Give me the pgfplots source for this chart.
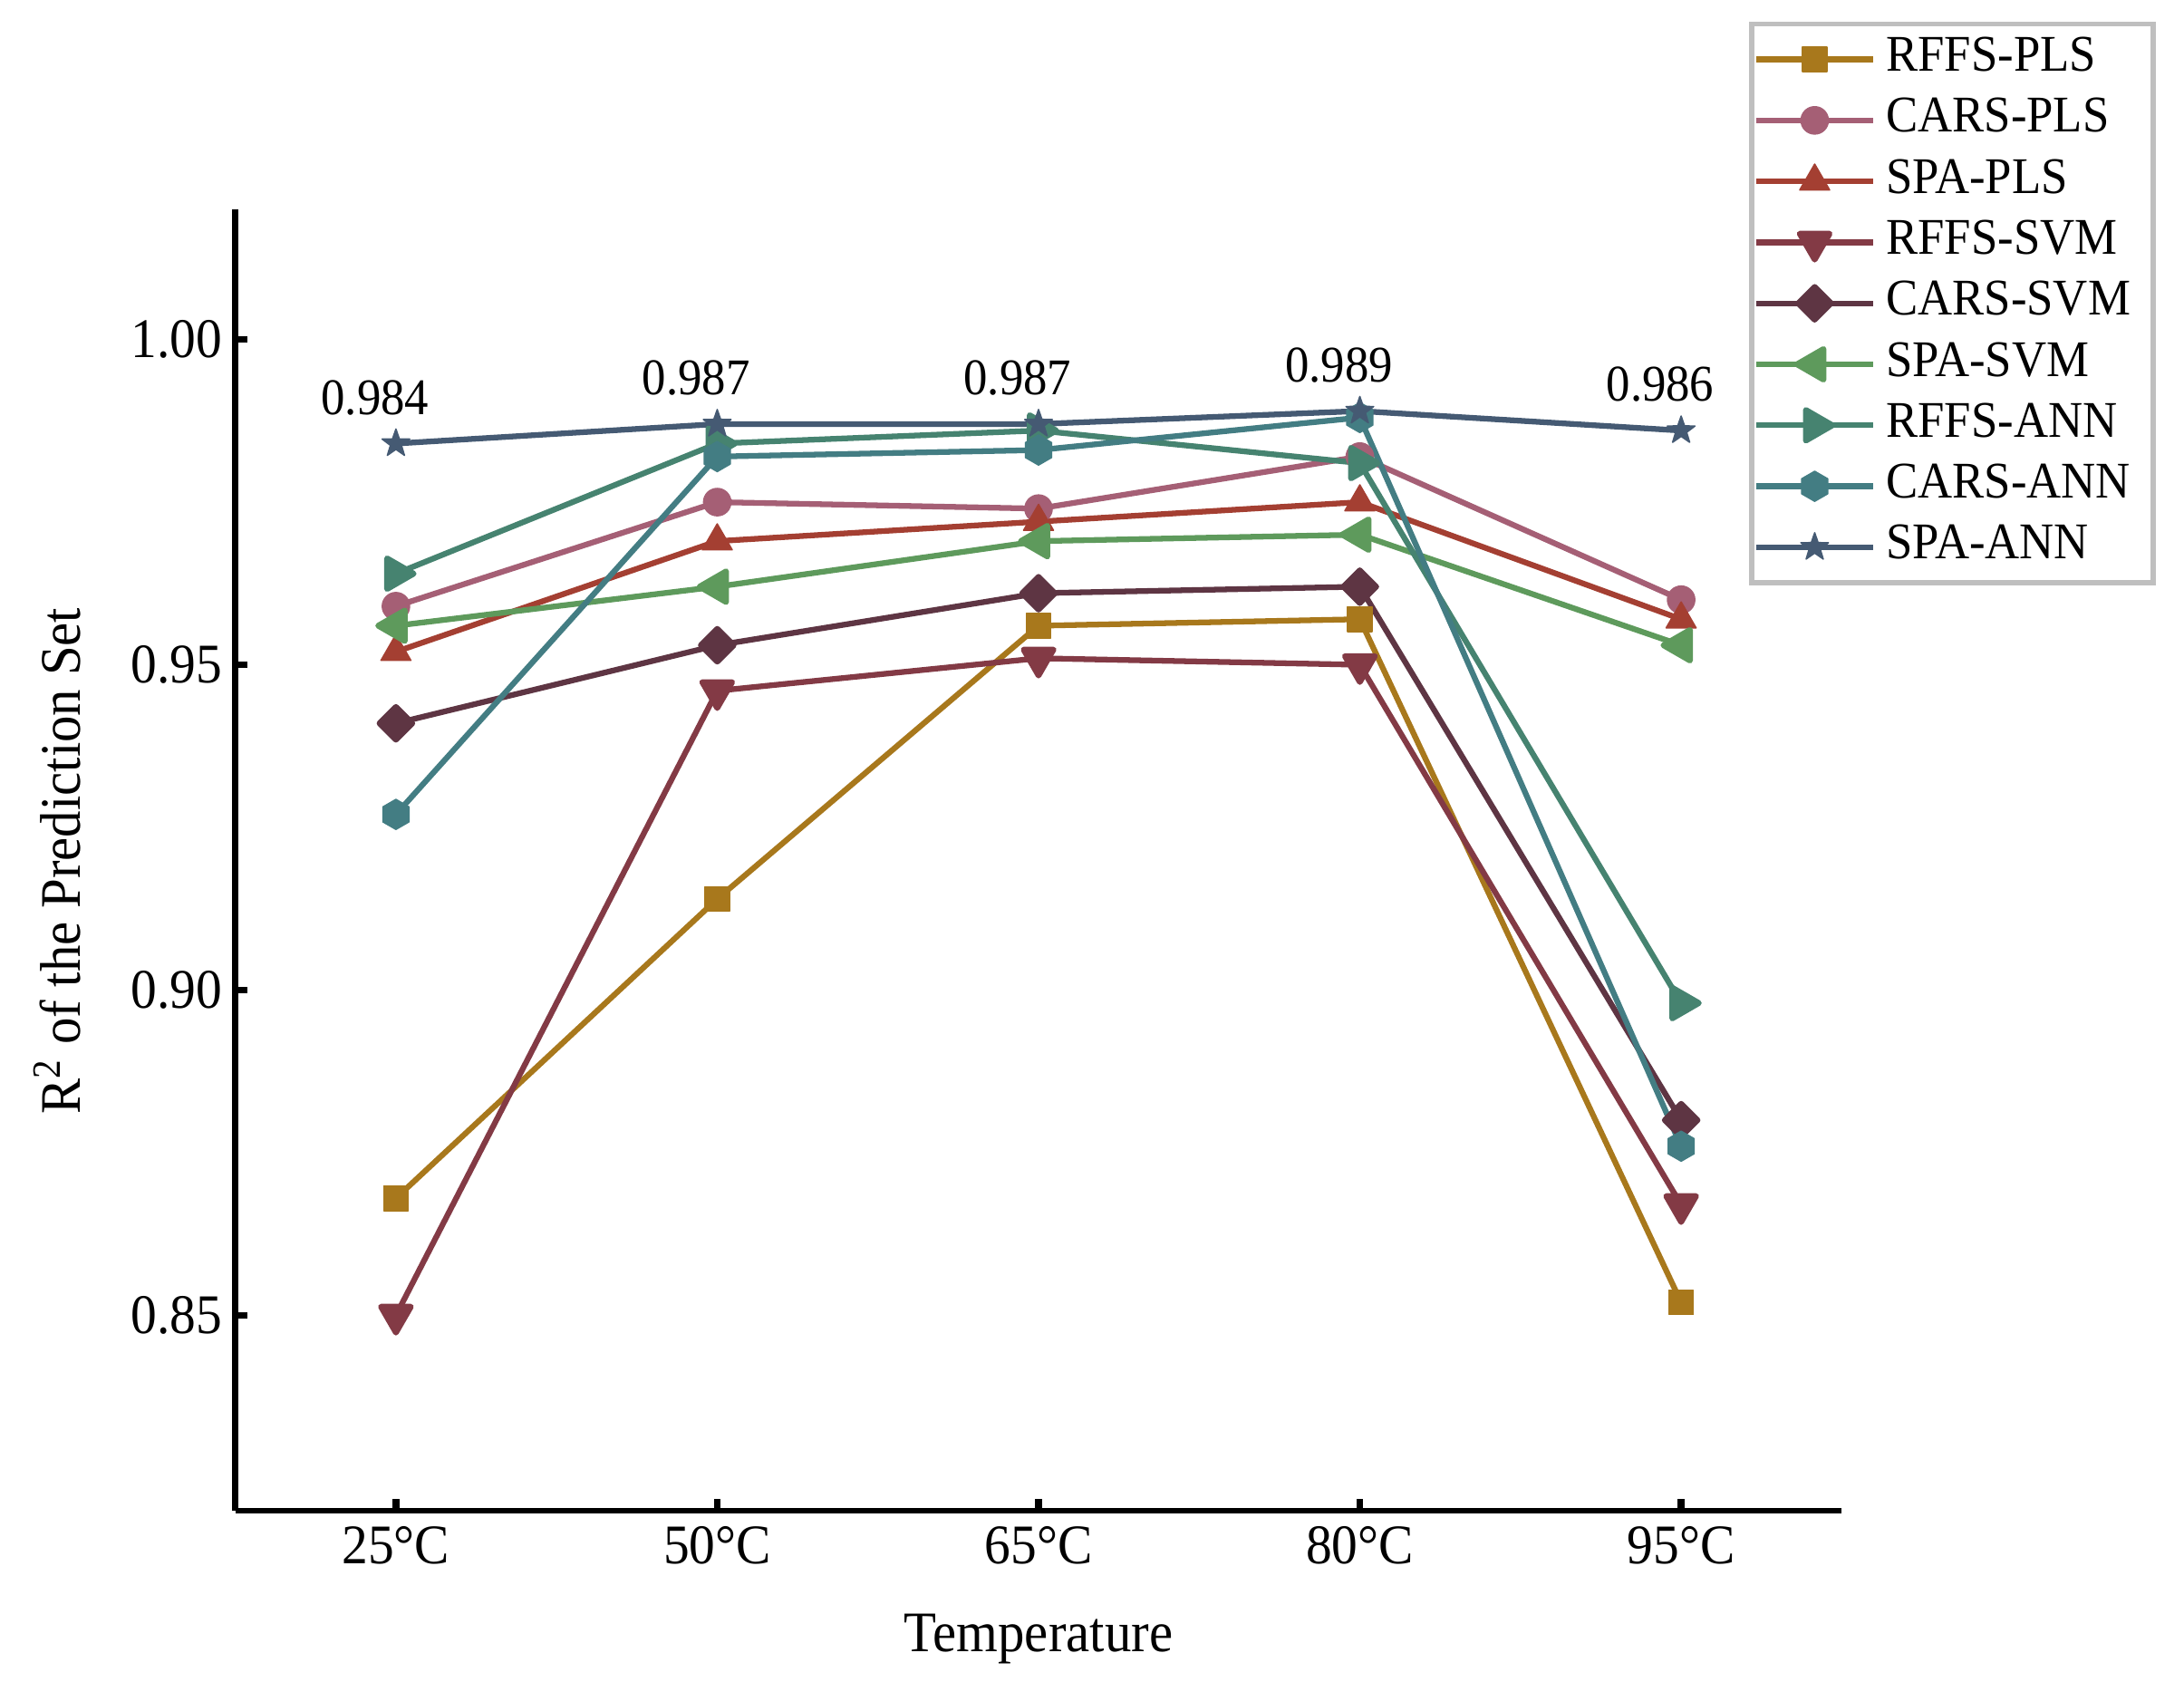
\documentclass[border=0pt]{standalone}
\usepackage{fontspec}
\setmainfont{Liberation Serif}[FakeStretch=0.93]
\usepackage{pgfplots}
\pgfplotsset{compat=1.18}
\usetikzlibrary{plotmarks}

\definecolor{cRP}{HTML}{A8781C}
\definecolor{cCP}{HTML}{A55F75}
\definecolor{cSP}{HTML}{A43F32}
\definecolor{cRS}{HTML}{833A45}
\definecolor{cCS}{HTML}{5E3543}
\definecolor{cSS}{HTML}{5E9A5C}
\definecolor{cRA}{HTML}{468370}
\definecolor{cCA}{HTML}{437D83}
\definecolor{cSA}{HTML}{455A73}

% filled hexagon, point up
\pgfdeclareplotmark{hexagon*}{%
  \pgfpathmoveto{\pgfpointpolar{90}{\pgfplotmarksize}}%
  \pgfpathlineto{\pgfpointpolar{150}{\pgfplotmarksize}}%
  \pgfpathlineto{\pgfpointpolar{210}{\pgfplotmarksize}}%
  \pgfpathlineto{\pgfpointpolar{270}{\pgfplotmarksize}}%
  \pgfpathlineto{\pgfpointpolar{330}{\pgfplotmarksize}}%
  \pgfpathlineto{\pgfpointpolar{30}{\pgfplotmarksize}}%
  \pgfpathclose
  \pgfusepathqfillstroke}
% filled five-point star
\pgfdeclareplotmark{star5*}{%
  \pgfpathmoveto{\pgfpointpolar{90}{\pgfplotmarksize}}%
  \pgfpathlineto{\pgfpointpolar{126}{0.4\pgfplotmarksize}}%
  \pgfpathlineto{\pgfpointpolar{162}{\pgfplotmarksize}}%
  \pgfpathlineto{\pgfpointpolar{198}{0.4\pgfplotmarksize}}%
  \pgfpathlineto{\pgfpointpolar{234}{\pgfplotmarksize}}%
  \pgfpathlineto{\pgfpointpolar{270}{0.4\pgfplotmarksize}}%
  \pgfpathlineto{\pgfpointpolar{306}{\pgfplotmarksize}}%
  \pgfpathlineto{\pgfpointpolar{342}{0.4\pgfplotmarksize}}%
  \pgfpathlineto{\pgfpointpolar{18}{\pgfplotmarksize}}%
  \pgfpathlineto{\pgfpointpolar{54}{0.4\pgfplotmarksize}}%
  \pgfpathclose
  \pgfusepathqfillstroke}

\pgfplotsset{
  ser/.style={color=#1, line width=1.25pt, line join=round,
    mark options={solid, fill=#1, draw=#1, line width=0.3pt}},
}
\newcommand{\entry}[1]{\addlegendentry{#1\hspace*{4pt}}}

\begin{document}
\begin{tikzpicture}
\begin{axis}[
    scale only axis,
    width=353pt, height=285.9pt,
    xmin=-0.5, xmax=4.5,
    ymin=0.82, ymax=1.02,
    axis lines*=left,
    axis line style={line width=1.3pt, black},
    tick style={line width=1.5pt, black},
    tick align=inside,
    major tick length=2.6pt,
    xtick={0,1,2,3,4},
    xticklabels={25°C,50°C,65°C,80°C,95°C},
    ytick={0.85,0.90,0.95,1.00},
    /pgf/number format/assume math mode=true,
    yticklabel style={/pgf/number format/fixed, /pgf/number format/fixed zerofill,
      /pgf/number format/precision=2, xshift=0.6pt},
    ticklabel style={font=\fontsize{12.3}{14}\selectfont},
    xlabel={Temperature},
    ylabel={R\textsuperscript{2} of the Prediction Set},
    label style={font=\fontsize{12.6}{15}\selectfont},
    xlabel style={at={(axis description cs:0.5,-0.099)}, anchor=center},
    ylabel style={at={(axis description cs:-0.111,0.499)}, anchor=center},
    legend style={at={(1,1)}, xshift=69pt, yshift=41.3pt, anchor=north east,
      draw=black!25, line width=1.1pt,
      font=\fontsize{11.3}{13}\selectfont,
      row sep=2.4pt, column sep=1.8pt, inner xsep=0.5pt, inner ysep=2.3pt,
      nodes={inner xsep=0.5pt, inner ysep=0.5pt, text height=7.6pt, text depth=2.4pt}},
    legend cell align=left,
    legend image code/.code={%
      \draw[mark repeat=2, mark phase=2, #1] plot coordinates {(0pt,0pt) (12.75pt,0pt) (25.5pt,0pt)};},
]
\addplot[ser=cRP, mark=square*, mark size=2.7pt] coordinates {
  (0,0.868) (1,0.914) (2,0.956) (3,0.957) (4,0.852)};
\entry{RFFS-PLS}
\addplot[ser=cCP, mark=*, mark size=3pt] coordinates {
  (0,0.959) (1,0.975) (2,0.974) (3,0.982) (4,0.960)};
\entry{CARS-PLS}
\addplot[ser=cSP, mark=triangle*, mark size=3.8pt] coordinates {
  (0,0.952) (1,0.969) (2,0.972) (3,0.975) (4,0.957)};
\entry{SPA-PLS}
\addplot[ser=cRS, mark=triangle*, mark size=3.8pt, mark options={rotate=180}] coordinates {
  (0,0.850) (1,0.946) (2,0.951) (3,0.950) (4,0.867)};
\entry{RFFS-SVM}
\addplot[ser=cCS, mark=square*, mark size=2.55pt, mark options={rotate=45}] coordinates {
  (0,0.941) (1,0.953) (2,0.961) (3,0.962) (4,0.880)};
\entry{CARS-SVM}
\addplot[ser=cSS, mark=triangle*, mark size=3.9pt, mark options={rotate=90}] coordinates {
  (0,0.956) (1,0.962) (2,0.969) (3,0.970) (4,0.953)};
\entry{SPA-SVM}
\addplot[ser=cRA, mark=triangle*, mark size=3.9pt, mark options={rotate=-90}] coordinates {
  (0,0.964) (1,0.984) (2,0.986) (3,0.981) (4,0.898)};
\entry{RFFS-ANN}
\addplot[ser=cCA, mark=hexagon*, mark size=3.3pt] coordinates {
  (0,0.927) (1,0.982) (2,0.983) (3,0.988) (4,0.876)};
\entry{CARS-ANN}
\addplot[ser=cSA, mark=star5*, mark size=3.2pt,
    point meta=explicit symbolic,
    nodes near coords={\pgfplotspointmeta},
    every node near coord/.append style={black, anchor=base, inner sep=0pt,
      xshift=-4.6pt, yshift=6.4pt, font=\fontsize{11.3}{13}\selectfont}] coordinates {
  (0,0.984) [0.984] (1,0.987) [0.987] (2,0.987) [0.987] (3,0.989) [0.989] (4,0.986) [0.986]};
\entry{SPA-ANN}
\coordinate (bbsw) at ([xshift=-51.7pt, yshift=-37.5pt]rel axis cs:0,0);
\coordinate (bbne) at ([xshift=75.2pt, yshift=46pt]rel axis cs:1,1);
\end{axis}
\pgfresetboundingbox
\path[use as bounding box] (bbsw) rectangle (bbne);
\end{tikzpicture}
\end{document}
